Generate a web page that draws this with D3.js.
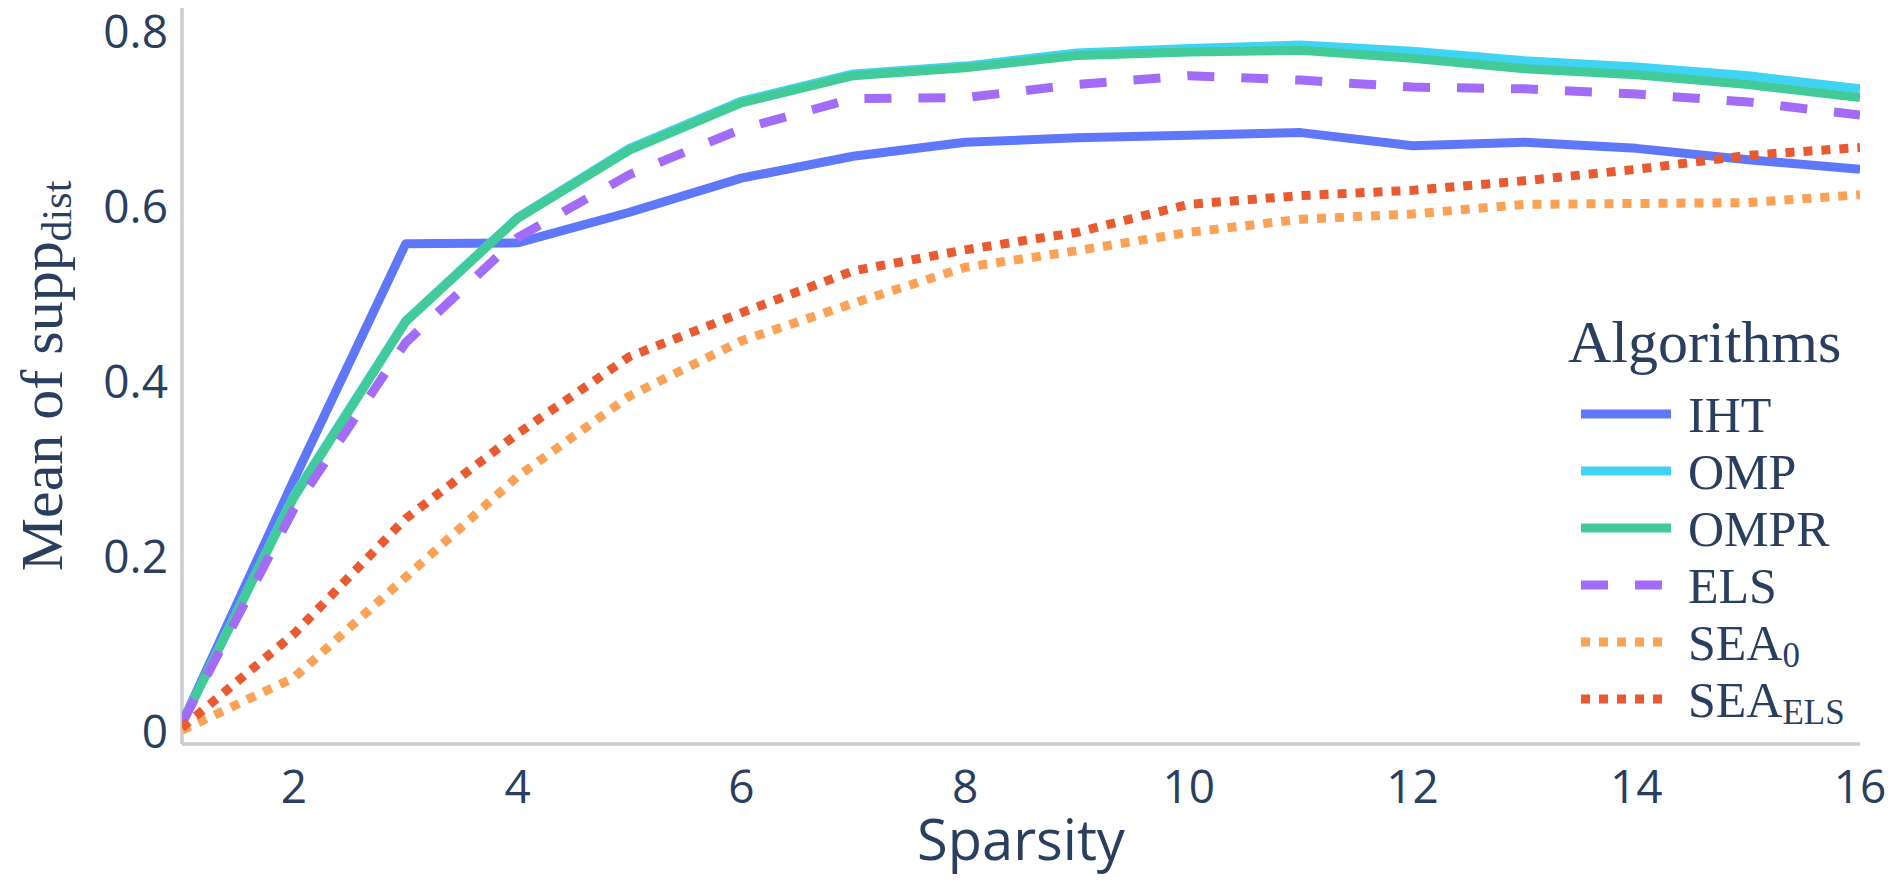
<!DOCTYPE html>
<html>
<head>
<meta charset="utf-8">
<script src="https://cdn.jsdelivr.net/npm/d3@7"></script>
<style>
  body { margin: 0; background: #fff; }
</style>
</head>
<body>
<div id="chart"></div>
<script>
// data
var sparsity = [1, 2, 3, 4, 5, 6, 7, 8, 9, 10, 11, 12, 13, 14, 15, 16];
var iht    = [0.010, 0.288, 0.558, 0.559, 0.594, 0.633, 0.658, 0.674, 0.679, 0.682, 0.685, 0.670, 0.674, 0.667, 0.654, 0.643];
var omp    = [0.010, 0.270, 0.470, 0.588, 0.667, 0.721, 0.752, 0.761, 0.776, 0.781, 0.785, 0.778, 0.767, 0.760, 0.750, 0.735];
var ompr   = [0.010, 0.268, 0.469, 0.587, 0.665, 0.719, 0.750, 0.759, 0.773, 0.777, 0.779, 0.770, 0.758, 0.751, 0.740, 0.725];
var els    = [0.010, 0.255, 0.445, 0.565, 0.637, 0.689, 0.724, 0.725, 0.740, 0.750, 0.745, 0.737, 0.735, 0.729, 0.720, 0.705];
var sea0   = [0.002, 0.062, 0.177, 0.292, 0.384, 0.447, 0.490, 0.531, 0.550, 0.571, 0.586, 0.592, 0.603, 0.604, 0.605, 0.614];
var seaEls = [0.005, 0.112, 0.244, 0.341, 0.429, 0.479, 0.527, 0.551, 0.571, 0.603, 0.613, 0.619, 0.630, 0.643, 0.659, 0.668];

var seriesNames = ["IHT", "OMP", "OMPR", "ELS", "SEA", "SEA"];
var seriesSubs = ["", "", "", "", "0", "ELS"];
var xTicks = [2, 4, 6, 8, 10, 12, 14, 16];
var yTicks = [0, 0.2, 0.4, 0.6, 0.8];
var yTickLabels = ["0", "0.2", "0.4", "0.6", "0.8"];

var width = 1892;
var height = 892;
var plot = { left: 182, right: 1860, top: 8, bottom: 744 };
var textColor = "#2a3f5f";
var lineW = 9;

var series = [
  { values: iht,    color: "#5f78f9", dash: null },
  { values: omp,    color: "#40d4f4", dash: null },
  { values: ompr,   color: "#42ca98", dash: null },
  { values: els,    color: "#a36cf8", dash: (3 * lineW) + "," + (3 * lineW) },
  { values: sea0,   color: "#fba257", dash: lineW + "," + lineW },
  { values: seaEls, color: "#e95a31", dash: lineW + "," + lineW }
];

var x = d3.scaleLinear().domain([1, 16]).range([plot.left, plot.right]);
var y = d3.scaleLinear().domain([-0.0137, 0.8274]).range([plot.bottom, plot.top]);

var svg = d3.select("#chart")
  .append("svg")
    .attr("width", width)
    .attr("height", height)
    .style("background", "#fff");

svg.append("defs").append("clipPath")
    .attr("id", "plotclip")
  .append("rect")
    .attr("x", plot.left)
    .attr("y", plot.top)
    .attr("width", plot.right - plot.left)
    .attr("height", plot.bottom - plot.top);

// axis lines
svg.append("line")
    .attr("x1", plot.left).attr("x2", plot.left)
    .attr("y1", plot.top).attr("y2", plot.bottom)
    .attr("stroke", "#cccccc")
    .attr("stroke-width", 3.5);

svg.append("line")
    .attr("x1", plot.left).attr("x2", plot.right)
    .attr("y1", plot.bottom).attr("y2", plot.bottom)
    .attr("stroke", "#cccccc")
    .attr("stroke-width", 3.5);

// tick labels
svg.append("g")
  .selectAll("text")
  .data(xTicks)
  .enter().append("text")
    .attr("x", function (d) { return x(d); })
    .attr("y", 803)
    .attr("text-anchor", "middle")
    .style("font-family", "'Open Sans', sans-serif")
    .style("font-size", "46px")
    .style("fill", textColor)
    .text(function (d) { return d; });

svg.append("g")
  .selectAll("text")
  .data(yTicks)
  .enter().append("text")
    .attr("x", 168)
    .attr("y", function (d) { return y(d); })
    .attr("dy", "0.35em")
    .attr("text-anchor", "end")
    .style("font-family", "'Open Sans', sans-serif")
    .style("font-size", "46px")
    .style("fill", textColor)
    .text(function (d, i) { return yTickLabels[i]; });

// axis titles
svg.append("text")
    .attr("x", (plot.left + plot.right) / 2)
    .attr("y", 860)
    .attr("text-anchor", "middle")
    .style("font-family", "'Open Sans', sans-serif")
    .style("font-size", "56px")
    .style("fill", textColor)
    .text("Sparsity");

var yTitle = svg.append("text")
    .attr("transform", "translate(62," + ((plot.top + plot.bottom) / 2) + ") rotate(-90)")
    .attr("text-anchor", "middle")
    .style("font-family", "'Liberation Serif', 'Times New Roman', serif")
    .style("font-size", "60px")
    .style("fill", textColor);
yTitle.append("tspan").text("Mean of supp");
yTitle.append("tspan")
    .attr("dy", "0.22em")
    .style("font-size", "42px")
    .text("dist");

// lines
var line = d3.line()
    .x(function (d, i) { return x(sparsity[i]); })
    .y(function (d) { return y(d); });

svg.append("g")
    .attr("clip-path", "url(#plotclip)")
  .selectAll("path")
  .data(series)
  .enter().append("path")
    .attr("d", function (d) { return line(d.values); })
    .attr("fill", "none")
    .attr("stroke", function (d) { return d.color; })
    .attr("stroke-width", lineW)
    .attr("stroke-linejoin", "round")
    .attr("stroke-dasharray", function (d) { return d.dash; });

// legend
var legend = svg.append("g");

legend.append("text")
    .attr("x", 1568)
    .attr("y", 362)
    .style("font-family", "'Liberation Serif', 'Times New Roman', serif")
    .style("font-size", "60px")
    .style("fill", textColor)
    .text("Algorithms");

var legendItem = legend.selectAll(".legend")
  .data(series)
  .enter().append("g")
    .attr("class", "legend")
    .attr("transform", function (d, i) {
      return "translate(0," + (414 + i * 57) + ")";
    });

legendItem.append("line")
    .attr("x1", 1581)
    .attr("x2", 1671)
    .attr("y1", 0)
    .attr("y2", 0)
    .attr("stroke", function (d) { return d.color; })
    .attr("stroke-width", lineW)
    .attr("stroke-dasharray", function (d) { return d.dash; });

var legendText = legendItem.append("text")
    .attr("x", 1688)
    .attr("y", 18)
    .style("font-family", "'Liberation Serif', 'Times New Roman', serif")
    .style("font-size", "50px")
    .style("fill", textColor);

legendText.append("tspan")
    .text(function (d, i) { return seriesNames[i]; });

legendText.append("tspan")
    .attr("dy", "0.2em")
    .style("font-size", "35px")
    .text(function (d, i) { return seriesSubs[i]; });
</script>
</body>
</html>
